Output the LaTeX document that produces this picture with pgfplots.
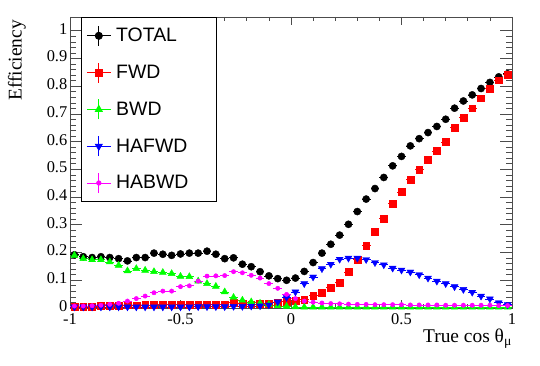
\documentclass[border=0pt]{standalone}
\usepackage{pgfplots}
\pgfplotsset{compat=1.18}
\usepackage{pgfplotstable}
\usepackage{fontspec}
\setmainfont{Liberation Serif}
\newfontfamily\helv{Liberation Sans}

\definecolor{rootred}{RGB}{255,0,0}
\definecolor{rootgreen}{RGB}{0,255,0}
\definecolor{rootblue}{RGB}{0,0,255}
\definecolor{rootmag}{RGB}{255,0,255}

\pgfplotstableread{
x tot fwd bwd haf hab
-0.98 0.192 0.005 0.190 0.004 0.007
-0.94 0.185 0.005 0.178 0.004 0.007
-0.90 0.182 0.006 0.174 0.004 0.008
-0.86 0.185 0.007 0.174 0.004 0.010
-0.82 0.182 0.008 0.166 0.004 0.013
-0.78 0.178 0.009 0.154 0.004 0.017
-0.74 0.170 0.010 0.134 0.004 0.025
-0.70 0.182 0.010 0.142 0.004 0.034
-0.66 0.182 0.011 0.136 0.004 0.043
-0.62 0.198 0.013 0.131 0.004 0.055
-0.58 0.194 0.014 0.128 0.004 0.061
-0.54 0.190 0.012 0.124 0.004 0.061
-0.50 0.195 0.014 0.114 0.004 0.077
-0.46 0.198 0.012 0.113 0.004 0.080
-0.42 0.198 0.013 0.097 0.005 0.097
-0.38 0.205 0.014 0.088 0.005 0.115
-0.34 0.194 0.013 0.078 0.005 0.116
-0.30 0.178 0.014 0.058 0.005 0.117
-0.26 0.181 0.020 0.038 0.006 0.131
-0.22 0.158 0.016 0.028 0.006 0.127
-0.18 0.149 0.014 0.022 0.007 0.118
-0.14 0.131 0.015 0.017 0.008 0.108
-0.10 0.116 0.016 0.013 0.011 0.088
-0.06 0.106 0.019 0.008 0.022 0.071
-0.02 0.100 0.024 0.006 0.038 0.049
0.02 0.108 0.025 0.004 0.058 0.034
0.06 0.132 0.031 0.003 0.088 0.025
0.10 0.164 0.044 0.003 0.112 0.021
0.14 0.198 0.055 0.003 0.142 0.018
0.18 0.230 0.074 0.003 0.158 0.016
0.22 0.263 0.092 0.003 0.176 0.015
0.26 0.302 0.130 0.003 0.180 0.014
0.30 0.348 0.174 0.003 0.180 0.013
0.34 0.393 0.225 0.003 0.175 0.013
0.38 0.431 0.275 0.003 0.164 0.012
0.42 0.471 0.323 0.003 0.156 0.012
0.46 0.513 0.377 0.003 0.144 0.012
0.50 0.547 0.419 0.003 0.137 0.012
0.54 0.585 0.463 0.003 0.130 0.011
0.58 0.611 0.499 0.003 0.120 0.011
0.62 0.633 0.535 0.003 0.108 0.011
0.66 0.655 0.567 0.003 0.097 0.011
0.70 0.681 0.599 0.003 0.088 0.010
0.74 0.721 0.651 0.003 0.077 0.010
0.78 0.747 0.687 0.003 0.067 0.010
0.82 0.769 0.721 0.003 0.057 0.010
0.86 0.792 0.757 0.003 0.043 0.010
0.90 0.814 0.792 0.003 0.033 0.010
0.94 0.834 0.822 0.003 0.019 0.009
0.98 0.845 0.843 0.003 0.012 0.009
}\data

\pgfplotsset{
  rooterr/.style={error bars/.cd, x dir=both, x fixed=0.02, y dir=both, y fixed=0.006,
    error mark=none, error bar style={line width=0.7bp, solid}},
}

\begin{document}
\begin{tikzpicture}
\useasboundingbox (-70bp,-58bp) rectangle (470bp,308bp);
\begin{axis}[
  at={(0,0)}, anchor=south west,
  scale only axis, width=442bp, height=291bp,
  xmin=-1, xmax=1, ymin=0, ymax=1.05,
  xtick={-1,-0.5,0,0.5,1}, minor x tick num=4,
  ytick={0,0.1,0.2,0.3,0.4,0.5,0.6,0.7,0.8,0.9,1},
  minor y tick num=4,
  tick align=inside, tick pos=both,
  axis line style={black!70, line width=0.8bp},
  every tick/.style={black!70, line width=0.8bp},
  xtick style={/pgfplots/major tick length=8bp, /pgfplots/minor tick length=4bp},
  ytick style={/pgfplots/major tick length=12bp, /pgfplots/minor tick length=6bp},
  /pgf/number format/assume math mode=true,
  tick label style={font=\fontsize{16.5}{18}\selectfont},
  yticklabel style={inner sep=0pt, xshift=-2.5bp, yshift=2bp},
  xticklabel style={inner sep=0pt, yshift=-5bp},
  xlabel={True cos θ\textsubscript{μ}},
  xlabel style={at={(axis description cs:1,0)}, anchor=north east, yshift=-21bp,
    inner sep=0pt, font=\fontsize{19.5}{20}\selectfont},
  ylabel={Efficiency},
  ylabel style={at={(axis description cs:-0.12,0.99)}, anchor=east,
    inner sep=0pt, font=\fontsize{19.5}{20}\selectfont},
  legend image code/.code={
    \draw[#1, mark=none, solid, line width=0.8bp] (-12bp,0bp) -- (12bp,0bp) (0bp,-10bp) -- (0bp,10bp);
    \draw[#1, only marks] plot coordinates {(0bp,0bp)};
  },
  legend style={at={(axis description cs:0.0249,1)}, anchor=north west,
    draw=black, line width=0.8bp, fill=white,
    inner xsep=5bp, inner ysep=0bp, row sep=0pt, column sep=5bp,
    font=\helv\fontsize{19.5}{20}\selectfont,
    nodes={inner sep=0pt, minimum height=36.8bp}},
  legend cell align=left,
]
\addplot[black, only marks, mark=*, mark size=3.6bp, mark options={solid, fill=black}, rooterr]
  table[x=x, y=tot]{\data};
\addlegendentry{TOTAL}
\addplot[rootred, only marks, mark=square*, mark size=3.4bp, mark options={solid, fill=rootred}, rooterr]
  table[x=x, y=fwd]{\data};
\addlegendentry{FWD}
\addplot[rootgreen, only marks, mark=triangle*, mark size=4bp, mark options={solid, fill=rootgreen}, rooterr]
  table[x=x, y=bwd]{\data};
\addlegendentry{BWD}
\addplot[rootblue, only marks, mark=triangle*, mark size=4bp, mark options={solid, fill=rootblue, rotate=180}, rooterr]
  table[x=x, y=haf]{\data};
\addlegendentry{HAFWD}
\addplot[rootmag, only marks, mark=*, mark size=2.2bp, mark options={solid, fill=rootmag}, rooterr]
  table[x=x, y=hab]{\data};
\addlegendentry{HABWD\hspace*{23bp}}
\end{axis}
\end{tikzpicture}
\end{document}
